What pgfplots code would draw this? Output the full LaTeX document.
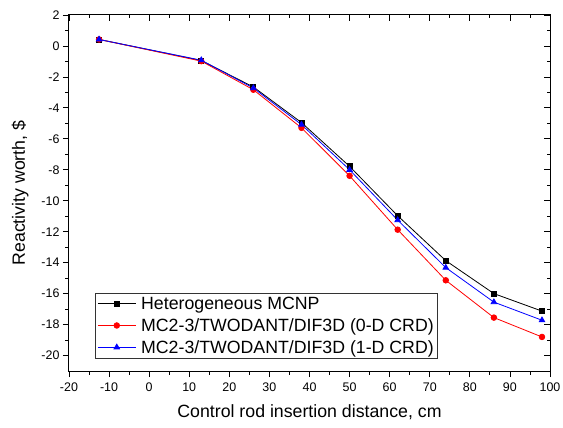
\documentclass[border=0pt]{standalone}
\usepackage{fontspec}
\setmainfont{Liberation Sans}
\usepackage{pgfplots}
\pgfplotsset{compat=1.18}
\begin{document}
\begin{tikzpicture}[x=1bp,y=1bp]
\path[use as bounding box] (-69bp,-57bp) rectangle (494bp,371bp);
\pgfplotsset{
  myaxis/.style={
    scale only axis, width=481bp, height=356bp,
    at={(0,0)}, anchor=south west,
    xmin=-20, xmax=100, ymin=-21, ymax=2,
    xtick={-20,-10,...,100}, ytick={-20,-18,...,2},
    minor x tick num=1, minor y tick num=1,
    major tick length=6bp, minor tick length=3.5bp,
    every tick/.style={black, line width=0.8bp},
    axis line style={line width=1bp},
  }
}
\begin{axis}[myaxis,
  tick align=outside, xtick pos=bottom, ytick pos=left,
  /pgf/number format/assume math mode=true,
  ticklabel style={font=\fontsize{12.5}{14}\selectfont},
  xticklabel style={yshift=-2bp},
  label style={font=\fontsize{17.8}{20}\selectfont},
  xlabel={Control rod insertion distance, cm},
  ylabel={Reactivity worth, \$},
  xlabel style={yshift=-6bp},
  ylabel style={yshift=6bp},
  legend style={at={(0.054,0.034)}, anchor=south west, draw=black!80, line width=0.8bp,
    font=\fontsize{17.8}{20.5}\selectfont, inner sep=2bp, row sep=3.5bp, column sep=3bp,
    nodes={inner sep=2bp}},
  legend cell align=left,
  legend image code/.code={\draw[#1] (0bp,0bp) -- (38bp,0bp); \path[#1,mark repeat=1] plot coordinates {(19bp,0bp)};},
]
\addplot[black, line width=0.8bp, mark=square*, mark size=2.5bp] coordinates {
(-12.5,0.42) (13,-0.94) (26,-2.65) (38,-4.95) (50,-7.78) (62,-10.97) (74,-13.87) (86,-16.0) (98,-17.13)};
\addlegendentry{Heterogeneous MCNP}
\addplot[red, line width=0.8bp, mark=*, mark size=2.8bp] coordinates {
(-12.5,0.42) (13,-0.98) (26,-2.83) (38,-5.29) (50,-8.39) (62,-11.87) (74,-15.14) (86,-17.55) (98,-18.8)};
\addlegendentry{MC2-3/TWODANT/DIF3D (0-D CRD)}
\addplot[blue, line width=0.8bp, mark=triangle*, mark size=3.2bp] coordinates {
(-12.5,0.42) (13,-0.92) (26,-2.72) (38,-5.08) (50,-8.0) (62,-11.25) (74,-14.32) (86,-16.55) (98,-17.72)};
\addlegendentry{MC2-3/TWODANT/DIF3D (1-D CRD)}
\end{axis}
\begin{axis}[myaxis, tick align=inside, xtick pos=top, ytick pos=right,
  xticklabels={}, yticklabels={}, axis line style={draw=none}]
\end{axis}
\end{tikzpicture}
\end{document}
